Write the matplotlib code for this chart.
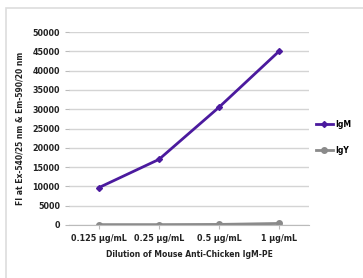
import numpy as np
import matplotlib.pyplot as plt
from matplotlib.patches import Rectangle

# data
categories = ['0.125 µg/mL', '0.25 µg/mL', '0.5 µg/mL', '1 µg/mL']
igm = [9700, 17000, 30500, 45000]
igy = [100, 100, 150, 400]

W, H = 363, 278
fig = plt.figure(figsize=(W / 100, H / 100), dpi=100)

# light grey frame, cropped at right/bottom
fig.patches.append(Rectangle((6 / W, -1), 2, 2 - 8 / H, transform=fig.transFigure,
                             fill=False, edgecolor='#dddddd', linewidth=1.2))

ax = fig.add_axes([69 / W, 1 - 225 / H, 240 / W, 193 / H])

x = np.arange(len(categories))
ax.plot(x, igm, color='#4b1a9e', linewidth=2, marker='D', markersize=3, label='IgM')
ax.plot(x, igy, color='#8a8a8a', linewidth=2, marker='o', markersize=4, label='IgY')

ax.set_xlim(-0.5, 3.5)
ax.set_ylim(0, 50000)
ax.set_yticks(np.arange(0, 50001, 5000))
ax.set_xticks(x)
ax.set_xticklabels(categories)
ax.yaxis.grid(True, color='#d4d4d4', linewidth=1)
ax.set_axisbelow(True)
for s in ['top', 'right', 'left']:
    ax.spines[s].set_visible(False)
ax.spines['bottom'].set_color('#bbbbbb')
ax.tick_params(axis='both', labelsize=5.8, colors='#bbbbbb', labelcolor='#222222', length=3)
for lbl in ax.get_xticklabels() + ax.get_yticklabels():
    lbl.set_fontweight('bold')

ax.set_xlabel('Dilution of Mouse Anti-Chicken IgM-PE', fontsize=5.5, fontweight='bold',
              color='#222222', labelpad=5)
ax.set_ylabel('FI at Ex-540/25 nm & Em-590/20 nm', fontsize=5.5, fontweight='bold',
              color='#222222', labelpad=6)

ax.legend(loc='upper left', bbox_to_anchor=(1.0, 0.58), frameon=False,
          handlelength=2.2, handletextpad=0.3, labelspacing=2.2, prop={'weight': 'bold', 'size': 5.5})

fig.savefig('out.png', dpi=100)
